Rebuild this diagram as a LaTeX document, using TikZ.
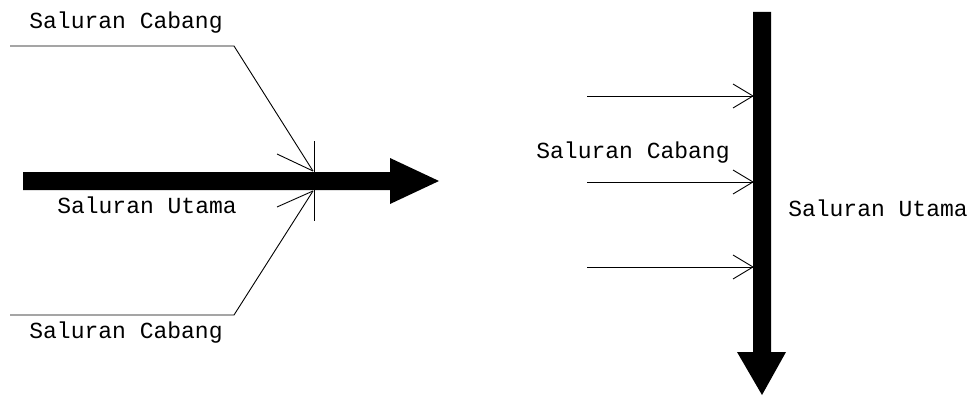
\documentclass[tikz,border=0pt]{standalone}
\usepackage{fontspec}
\setmainfont{Liberation Mono}
\usetikzlibrary{calc}
\begin{document}
\begin{tikzpicture}[x=1pt,y=-1pt,
  thin line/.style={draw=black,line width=0.9pt},
  main arrow/.style={fill=black,draw=none},
  lbl/.style={inner sep=0pt,font=\fontsize{23}{23}\selectfont}]
\useasboundingbox (0,0) rectangle (969,396);
% ---------- left diagram ----------
\coordinate (tA) at (10,46);
\coordinate (tB) at (234,46);
\coordinate (tT) at (313,171);
\coordinate (bA) at (10,315);
\coordinate (bB) at (234,315);
\coordinate (bT) at (313,191);
\fill[main arrow] (23,172) -- (390,172) -- (390,158) -- (439,181) -- (390,204) -- (390,190) -- (23,190) -- cycle;
\draw[thin line] (tA) -- (tB) -- (tT);
\draw[thin line] (277,154) -- (tT);
\draw[thin line] (bA) -- (bB) -- (bT);
\draw[thin line] (277,207) -- (bT);
\draw[thin line] (314,141) -- (314,221);
\node[lbl] (lc1) at (126,23) {Saluran Cabang};
\node[lbl] (lu) at (147,205) {Saluran Utama};
\node[lbl] (lc2) at (126,333) {Saluran Cabang};
% ---------- right diagram ----------
\fill[main arrow] (753,12) -- (771,12) -- (771,352) -- (786,352) -- (762,395) -- (737,352) -- (753,352) -- cycle;
\foreach \y/\n in {96/1,182/2,267/3}{
  \coordinate (s\n) at (587,\y);
  \coordinate (e\n) at (753,\y);
  \draw[thin line] (s\n) -- (e\n);
  \draw[thin line] ($(e\n)+(-20,-12)$) -- (e\n) -- ($(e\n)+(-20,12)$);
}
\node[lbl] (rc) at (633,153) {Saluran Cabang};
\node[lbl] (ru) at (878,208) {Saluran Utama};
\end{tikzpicture}
\end{document}
